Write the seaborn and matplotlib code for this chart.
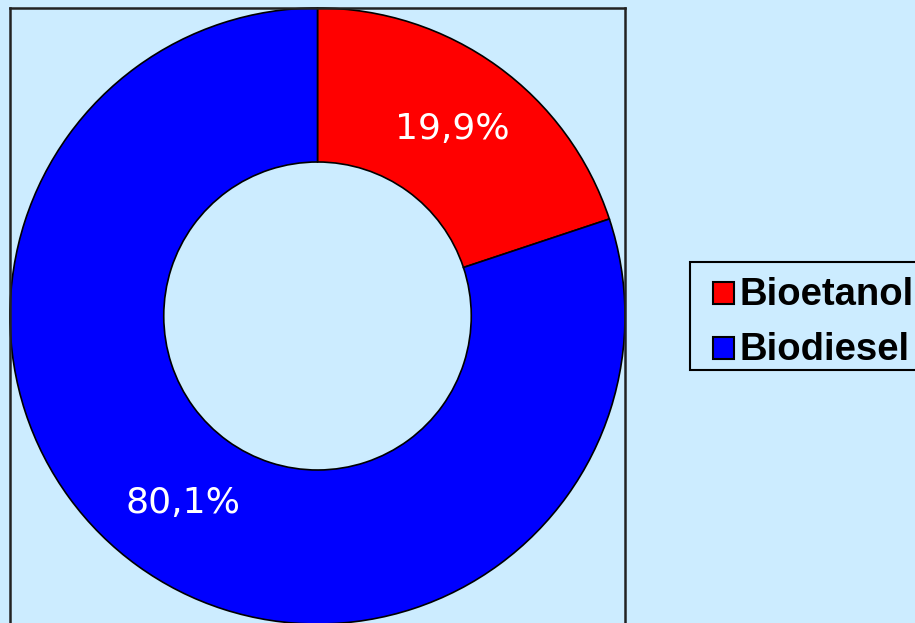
import matplotlib
matplotlib.use('Agg')
import matplotlib.pyplot as plt
from matplotlib.patches import Rectangle
import seaborn as sns

labels = ['Bioetanol', 'Biodiesel']
shares = [19.9, 80.1]
colors = ['#FF0000', '#0000FF']
bg = '#CCECFF'

sns.set_style('white', {'axes.facecolor': bg, 'figure.facecolor': bg})
palette = sns.color_palette(colors)

W, H = 915, 623
fig = plt.figure(figsize=(W / 100, H / 100), dpi=100)
ax = fig.add_axes([10 / W, -1 / H, 615 / W, 616 / H])

wedges, texts, autotexts = ax.pie(
    shares, colors=palette, startangle=90, counterclock=False,
    radius=1.0, autopct=lambda p: f'{p:.1f}%'.replace('.', ','),
    pctdistance=0.75, labels=None,
    wedgeprops=dict(width=0.5, edgecolor='black', linewidth=1.2),
    textprops=dict(color='white', fontsize=26, family='DejaVu Sans'))

ax.set_xlim(-1, 1)
ax.set_ylim(-1, 1)
ax.set_aspect('auto')
ax.set_frame_on(True)
for s in ax.spines.values():
    s.set_visible(True)
    s.set_color('#222222')
    s.set_linewidth(1.8)

# legend box drawn by hand (pixel coords from top-left)
def px(x, y):
    return x / W, 1 - y / H

x0, y0 = px(690, 370)
fig.patches.append(Rectangle((x0, y0), 240 / W, 108 / H, transform=fig.transFigure,
                             facecolor=bg, edgecolor='black', linewidth=1.5))
for i, (lab, w) in enumerate(zip(labels, wedges)):
    hx, hy = px(713, 304 + 55 * i)
    fig.patches.append(Rectangle((hx, hy), 21 / W, 22 / H, transform=fig.transFigure,
                                 facecolor=w.get_facecolor(), edgecolor='black', linewidth=1.5))
    tx, ty = px(739, 305 + 55 * i)
    fig.text(tx, ty, lab, ha='left', va='baseline', color='black',
             family='Liberation Sans', weight='bold', fontsize=27.5)

fig.savefig('out.png', dpi=100, facecolor=bg)
